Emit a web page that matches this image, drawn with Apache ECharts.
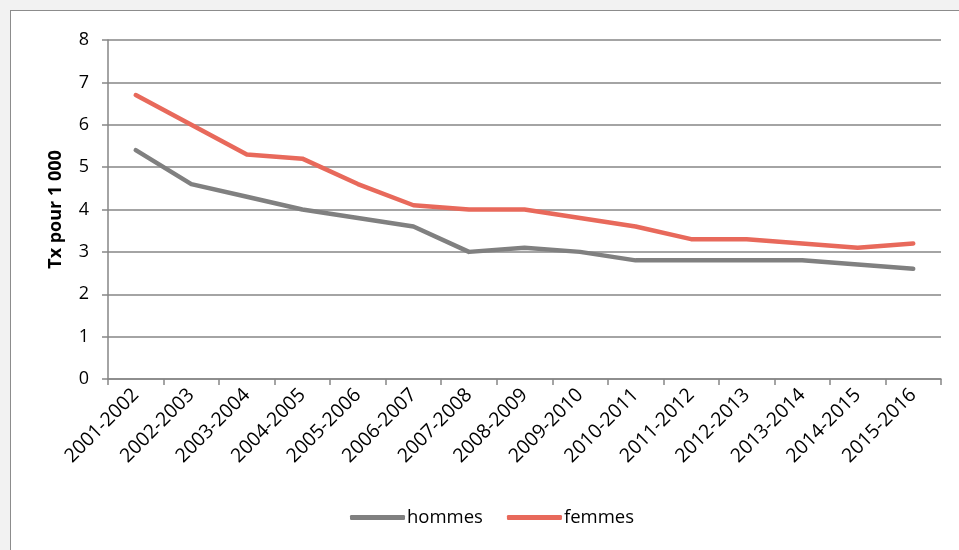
<!DOCTYPE html>
<html>
<head>
<meta charset="utf-8">
<script src="https://cdn.jsdelivr.net/npm/echarts@6/dist/echarts.min.js"></script>
<style>
  html, body { margin: 0; padding: 0; background: #f2f2f2; }
  #frame { position: absolute; left: 10px; top: 10px; width: 1000px; height: 600px; background: #fff; border: 1.5px solid #8c8c8c; box-sizing: border-box; }
  #chart { position: absolute; left: 0; top: 0; width: 959px; height: 550px; }
</style>
</head>
<body>
<div id="frame"></div>
<div id="chart"></div>
<script>
const categories = ['2001-2002','2002-2003','2003-2004','2004-2005','2005-2006','2006-2007','2007-2008','2008-2009','2009-2010','2010-2011','2011-2012','2012-2013','2013-2014','2014-2015','2015-2016'];
const hommes = [5.4, 4.6, 4.3, 4.0, 3.8, 3.6, 3.0, 3.1, 3.0, 2.8, 2.8, 2.8, 2.8, 2.7, 2.6];
const femmes = [6.7, 6.0, 5.3, 5.2, 4.6, 4.1, 4.0, 4.0, 3.8, 3.6, 3.3, 3.3, 3.2, 3.1, 3.2];
const yAxisName = 'Tx pour 1 000';

const font = '"Open Sans", sans-serif';
const axisGray = '#868686';
const chart = echarts.init(document.getElementById('chart'), null, { renderer: 'canvas' });
chart.setOption({
  backgroundColor: 'transparent',
  animation: false,
  textStyle: { fontFamily: font },
  grid: { left: 108, right: 18, top: 40, bottom: 171, containLabel: false },
  legend: {
    left: 345, top: 503,
    itemWidth: 55, itemHeight: 5, itemGap: 24,
    icon: 'roundRect',
    textStyle: { fontFamily: font, fontSize: 18.5, color: '#000', padding: [0, 0, 0, -3] },
    data: ['hommes', 'femmes']
  },
  xAxis: {
    type: 'category',
    data: categories,
    boundaryGap: true,
    axisLine: { lineStyle: { color: axisGray, width: 1.5 } },
    axisTick: { show: true, length: 6, lineStyle: { color: axisGray, width: 1.5 } },
    axisLabel: { rotate: 45, interval: 0, margin: 13, fontSize: 19.5, color: '#000', fontFamily: font }
  },
  yAxis: {
    type: 'value',
    min: 0, max: 8, interval: 1,
    name: yAxisName,
    nameLocation: 'middle',
    nameGap: 43,
    nameTextStyle: { fontFamily: font, fontSize: 18, fontWeight: 'bold', color: '#000' },
    axisLine: { show: true, lineStyle: { color: axisGray, width: 1.5 } },
    axisTick: { show: true, length: 6, lineStyle: { color: axisGray, width: 1.5 } },
    axisLabel: { margin: 19, fontSize: 18, color: '#000', fontFamily: font },
    splitLine: { show: true, lineStyle: { color: axisGray, width: 1.5 } }
  },
  series: [
    {
      name: 'hommes', type: 'line', data: hommes,
      symbol: 'none', color: '#808080',
      lineStyle: { width: 4.5, color: '#808080', cap: 'round', join: 'round' }
    },
    {
      name: 'femmes', type: 'line', data: femmes,
      symbol: 'none', color: '#e8695b',
      lineStyle: { width: 4.5, color: '#e8695b', cap: 'round', join: 'round' }
    }
  ]
});
</script>
</body>
</html>
